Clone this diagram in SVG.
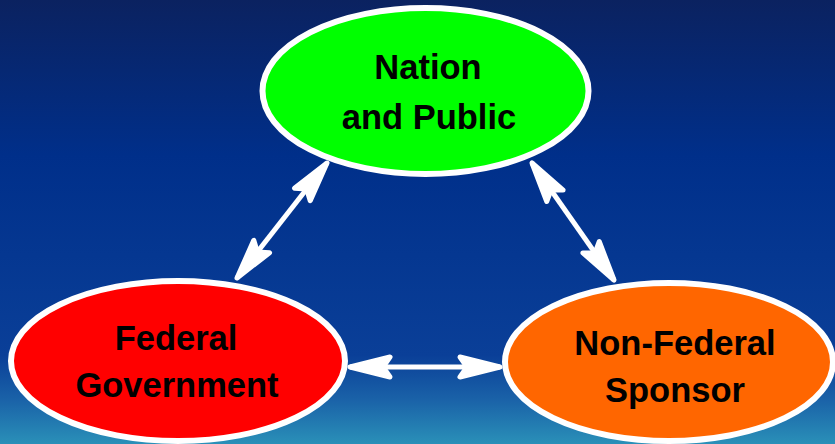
<svg xmlns="http://www.w3.org/2000/svg" width="835" height="444" viewBox="0 0 835 444">
<defs>
<linearGradient id="bg" x1="0" y1="0" x2="0" y2="1">
<stop offset="0" stop-color="#0b2260"/>
<stop offset="0.35" stop-color="#002f8a"/>
<stop offset="0.8" stop-color="#0a3f98"/>
<stop offset="0.9" stop-color="#1a62a8"/>
<stop offset="1" stop-color="#2a90b8"/>
</linearGradient>
<marker id="ah" viewBox="0 0 50 30" refX="46" refY="15" markerWidth="50" markerHeight="30" markerUnits="userSpaceOnUse" orient="auto-start-reverse">
<path d="M46,15 L6,5 L13,15 L6,25 Z" fill="#fff" stroke="#fff" stroke-width="5" stroke-linejoin="round"/>
</marker>
</defs>
<style>
.node ellipse{stroke:#fff;stroke-width:6}
.node text{font-family:"Liberation Sans",Arial,sans-serif;font-weight:bold;font-size:34.5px;fill:#000;text-anchor:middle}
.conn line{stroke:#fff;stroke-width:5;marker-start:url(#ah);marker-end:url(#ah)}
</style>
<rect width="835" height="444" fill="url(#bg)"/>
<g id="connectors" class="conn">
<line x1="237" y1="278" x2="327" y2="163"/>
<line x1="532" y1="163" x2="614" y2="280"/>
<line x1="350" y1="367" x2="500" y2="367"/>
</g>
<g id="nation" class="node">
<ellipse cx="425.5" cy="91" rx="163" ry="83" fill="#00ff00"/>
<text x="428" y="79">Nation</text>
<text x="429" y="129">and Public</text>
</g>
<g id="federal" class="node">
<ellipse cx="178" cy="361" rx="167" ry="80" fill="#ff0000"/>
<text x="176" y="350">Federal</text>
<text x="177" y="397">Government</text>
</g>
<g id="sponsor" class="node">
<ellipse cx="669" cy="362" rx="164" ry="79" fill="#ff6600"/>
<text x="675" y="355">Non-Federal</text>
<text x="675" y="402">Sponsor</text>
</g>
</svg>
